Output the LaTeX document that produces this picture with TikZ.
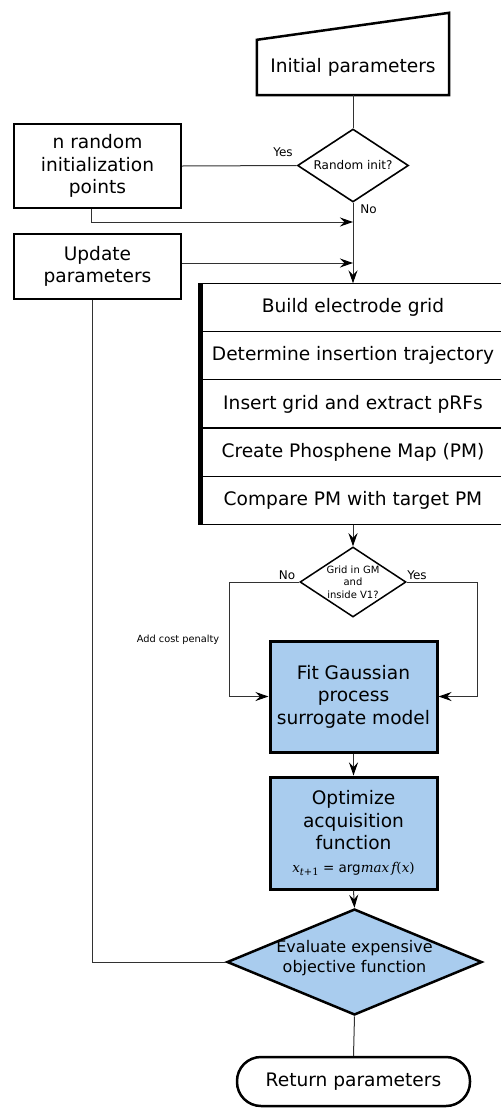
\documentclass[tikz,border=0pt]{standalone}
\usepackage{fontspec}
\setmainfont{DejaVu Sans}
\newfontfamily\formfont{DejaVu Serif}
\usetikzlibrary{shapes.geometric,arrows.meta,calc}
\definecolor{gpblue}{RGB}{169,204,238}
\definecolor{wire}{RGB}{50,50,50}
\begin{document}
\begin{tikzpicture}[x=1pt,y=-1pt,
  big/.style={font=\fontsize{18.6}{22.5}\selectfont, align=center},
  lab/.style={font=\fontsize{12}{14}\selectfont, inner sep=0pt},
  box/.style={draw, line width=2pt, big, inner sep=0pt},
  bluebox/.style={draw, fill=gpblue, line width=3pt, big, inner sep=0pt,
    minimum width=167pt},
  row/.style={big, inner sep=0pt, minimum width=296pt, minimum height=48.2pt},
  decision/.style={draw, diamond, inner sep=0pt},
  conn/.style={draw=wire, line width=1pt},
  arr/.style={conn, -{Stealth[length=13pt,width=9pt,inset=4.5pt,color=black]}}]
\useasboundingbox (0,0) rectangle (501,1109);

% start: manual input
\node[big, minimum width=192pt, minimum height=55pt, inner sep=0pt] (init) at (353,67.5) {Initial parameters};
\draw[line width=2.5pt, line join=miter]
  (init.south west) -- (init.north west) -- ([yshift=27pt]init.north east)
  -- (init.south east) -- cycle;

% random initialisation decision
\node[decision, line width=1.6pt, minimum width=111pt, minimum height=73pt,
  label={[font=\fontsize{12}{14}\selectfont]center:Random init?}] (rnd) at (353,165.5) {};

% side boxes
\node[box, minimum width=167pt, minimum height=84pt] (npts) at (97.5,166) {n random\\initialization\\points};
\node[box, minimum width=167pt, minimum height=65pt] (upd) at (97.5,266.5) {Update\\parameters};

% processing stack
\node[row] (s1) at (353,307.6) {Build electrode grid};
\node[row] (s2) at (353,355.8) {Determine insertion trajectory};
\node[row] (s3) at (353,404.0) {Insert grid and extract pRFs};
\node[row] (s4) at (353,452.2) {Create Phosphene Map (PM)};
\node[row] (s5) at (353,500.4) {Compare PM with target PM};
\foreach \r in {s1,s2,s3,s4}
  \draw[line width=1.2pt] ([xshift=-6pt]\r.north west) -- (\r.north east);
\draw[line width=1.2pt] ([xshift=-6pt]s5.north west) -- (s5.north east);
\draw[line width=1.2pt] ([xshift=-6pt]s5.south west) -- (s5.south east);
\draw[line width=5pt] ([xshift=-4.5pt]s1.north west) -- ([xshift=-4.5pt]s5.south west);

% validity decision
\node[decision, line width=1.5pt, minimum width=106pt, minimum height=70pt,
  label={[font=\fontsize{10}{12.5}\selectfont, align=center]center:Grid in GM\\and\\inside V1?}] (grid) at (353,582) {};

% Bayesian optimisation steps
\node[bluebox, minimum height=111pt] (fit) at (353.5,696.5) {Fit Gaussian\\process\\surrogate model};
\node[bluebox, minimum height=112pt] (opt) at (353.5,833)
  {Optimize\\acquisition\\function\\[0pt]{\fontsize{13.5}{15}\selectfont
   {\formfont\itshape x}\raisebox{-3pt}{\fontsize{10}{11}\selectfont\formfont\itshape t\upshape+1}
   = arg{\formfont\itshape max\,f\upshape(\itshape x\upshape)}}};
\node[decision, fill=gpblue, line width=2.5pt, minimum width=255pt, minimum height=106pt,
  label={[font=\fontsize{16}{20}\selectfont, align=center, yshift=4pt]center:Evaluate expensive\\objective function}] (eval) at (354.5,962) {};

% end terminal
\node[draw, line width=2.5pt, rounded corners=24pt, minimum width=233pt, minimum height=49pt,
  big, inner sep=0pt] (ret) at (353.5,1081.5) {Return parameters};

% connectors
\coordinate (j1) at (353,222);
\coordinate (j2) at (353,263);
\coordinate (gl) at (229,582);
\coordinate (gr) at (477,582);

\draw[conn] (init.south) -- (rnd.north);
\draw[conn] (rnd.west) -- (npts.east);
\draw[arr] ([xshift=-6pt]npts.south) |- (j1);
\draw[arr] (rnd.south) -- (s1.north);
\draw[arr] (upd.east |- j2) -- (j2);
\draw[arr] (s5.south) -- (grid.north);
\draw[arr] (grid.west) -- (gl) |- (fit.west);
\draw[arr] (grid.east) -- (gr) |- (fit.east);
\draw[arr] (fit.south) -- (opt.north);
\draw[arr] (opt.south) -- (eval.north);
\draw[conn] (eval.west) -| ([xshift=-5.5pt]upd.south);
\draw[conn] (eval.south) -- (ret.north);

% branch labels
\node[lab] (yes1) at (283,152) {Yes};
\node[lab] (no1) at (368.5,209) {No};
\node[lab] (no2) at (287,575) {No};
\node[lab] (yes2) at (417,575) {Yes};
\node[lab, font=\fontsize{9.8}{11}\selectfont] (pen) at (178,640) {Add cost penalty};
\end{tikzpicture}
\end{document}
